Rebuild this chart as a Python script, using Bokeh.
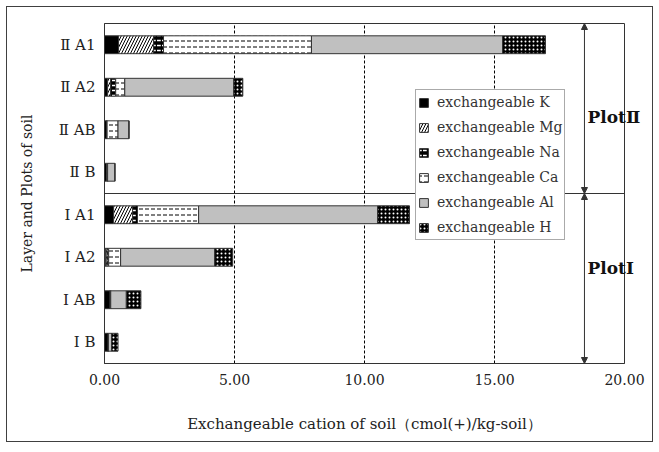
from bokeh.plotting import figure
from bokeh.models import (Range1d, FixedTicker, NumeralTickFormatter, Span, Arrow,
                          NormalHead, ColumnDataSource, Legend, LinearAxis)
from bokeh.embed import file_html
from bokeh.resources import INLINE

# ---- data (top to bottom) ----
categories = ["Ⅱ A1", "Ⅱ A2", "Ⅱ AB", "Ⅱ B", "Ⅰ A1", "Ⅰ A2", "Ⅰ AB", "Ⅰ B"]
K  = [0.54, 0.12, 0.10, 0.08, 0.35, 0.05, 0.22, 0.15]
Mg = [1.35, 0.12, 0.00, 0.04, 0.73, 0.05, 0.00, 0.00]
Na = [0.38, 0.19, 0.00, 0.00, 0.19, 0.06, 0.02, 0.00]
Ca = [5.69, 0.35, 0.42, 0.00, 2.35, 0.46, 0.00, 0.00]
Al = [7.35, 4.19, 0.42, 0.28, 6.88, 3.62, 0.60, 0.12]
H  = [1.65, 0.35, 0.00, 0.00, 1.23, 0.69, 0.56, 0.25]
series_names = ["K", "Mg", "Na", "Ca", "Al", "H"]
legend_labels = ["exchangeable K", "exchangeable Mg", "exchangeable Na",
                 "exchangeable Ca", "exchangeable Al", "exchangeable H"]
x_ticks = [0, 5, 10, 15, 20]
group_labels = ["PlotⅡ", "PlotⅠ"]
group_label_y = [5.29, 1.74]

ypos = list(range(len(categories) - 1, -1, -1))
data = dict(K=K, Mg=Mg, Na=Na, Ca=Ca, Al=Al, H=H)

SERIF = "DejaVu Serif"
TXT = "#222222"

p = figure(width=645, height=434, output_backend="svg", toolbar_location=None,
           x_range=Range1d(0, 20), y_range=Range1d(-0.5, 7.5),
           min_border_left=97, min_border_right=28, min_border_top=16,
           min_border_bottom=78, frame_width=520, frame_height=340)
p.margin = (7, 0, 0, 7)
p.styles = {"outline": "1px solid #404040"}
p.background_fill_color = "white"
p.outline_line_color = "#333333"
p.outline_line_width = 1

styles = [
    dict(fill_color="black"),
    dict(fill_color="white", hatch_pattern="/", hatch_color="black", hatch_scale=6, hatch_weight=1),
    dict(fill_color="black", hatch_pattern='"', hatch_color="white", hatch_scale=5, hatch_weight=1.5),
    dict(fill_color="white", hatch_pattern='"', hatch_color="black", hatch_scale=6, hatch_weight=1),
    dict(fill_color="#c0c0c0"),
    dict(fill_color="black", hatch_pattern=".", hatch_color="white", hatch_scale=4, hatch_weight=2),
]

left = [0.0] * len(categories)
items = []
for name, lab, st in zip(series_names, legend_labels, styles):
    vals = data[name]
    right = [a + b for a, b in zip(left, vals)]
    s = ColumnDataSource(dict(y=ypos, left=left, right=right))
    r = p.hbar(y="y", left="left", right="right", height=0.42, source=s,
               line_color="#333333", line_width=1, **st)
    items.append((lab, [r]))
    left = right

legend = Legend(items=items, location=(311, 123))
legend.label_text_font = SERIF
legend.label_text_font_size = "14px"
legend.label_text_color = "#333333"
legend.glyph_width = 11
legend.glyph_height = 11
legend.label_height = 20
legend.label_standoff = 8
legend.spacing = 5
legend.padding = 2
legend.margin = 0
legend.border_line_color = "#555555"
legend.border_line_width = 1
legend.background_fill_alpha = 1
p.add_layout(legend)

# axes
p.xaxis.ticker = FixedTicker(ticks=x_ticks)
p.xaxis.formatter = NumeralTickFormatter(format="0.00")
p.xaxis.major_tick_out = 0
p.xaxis.major_tick_in = 0
p.xaxis.minor_tick_line_color = None
p.xaxis.major_label_text_font = SERIF
p.xaxis.major_label_text_font_size = "14px"
p.xaxis.major_label_text_color = TXT
p.xaxis.major_label_standoff = 10
p.xaxis.axis_label = "Exchangeable cation of soil（cmol(+)/kg-soil）"
p.xaxis.axis_label_text_font = SERIF
p.xaxis.axis_label_text_font_size = "15px"
p.xaxis.axis_label_text_font_style = "normal"
p.xaxis.axis_label_text_color = TXT
p.xaxis.axis_label_standoff = 27
p.xaxis.axis_line_color = "#333333"

p.yaxis.ticker = FixedTicker(ticks=ypos)
p.yaxis.major_label_overrides = {y: c for y, c in zip(ypos, categories)}
p.yaxis.major_tick_out = 0
p.yaxis.major_tick_in = 0
p.yaxis.minor_tick_line_color = None
p.yaxis.major_label_text_font = SERIF
p.yaxis.major_label_text_font_size = "15px"
p.yaxis.major_label_text_color = TXT
p.yaxis.major_label_standoff = 9
p.yaxis.axis_label = "Layer and Plots of soil"
p.yaxis.axis_label_text_font = SERIF
p.yaxis.axis_label_text_font_size = "14px"
p.yaxis.axis_label_text_font_style = "normal"
p.yaxis.axis_label_text_color = TXT
p.yaxis.axis_label_standoff = 21
p.yaxis.axis_line_color = "#333333"

# group labels as a right-side axis, pulled inward so they straddle the frame
rax = LinearAxis(ticker=FixedTicker(ticks=group_label_y),
                 major_label_overrides={y: t for y, t in zip(group_label_y, group_labels)},
                 major_label_standoff=-43, axis_line_color=None,
                 major_tick_line_color=None, minor_tick_line_color=None,
                 major_label_text_font=SERIF, major_label_text_font_size="17px",
                 major_label_text_font_style="bold", major_label_text_color="#111111")
p.add_layout(rax, "right")

p.ygrid.grid_line_color = None
p.xgrid.grid_line_color = "black"
p.xgrid.grid_line_dash = "3 2"
p.xgrid.grid_line_width = 1

# separator between plots
p.add_layout(Span(location=3.5, dimension="width", line_color="#333333", line_width=1))

ax = 18.46
for y0, y1 in [(3.5, 7.5), (-0.5, 3.5)]:
    p.add_layout(Arrow(x_start=ax, y_start=y0, x_end=ax, y_end=y1,
                       start=NormalHead(size=6, fill_color="#333333", line_color="#333333"),
                       end=NormalHead(size=6, fill_color="#333333", line_color="#333333"),
                       line_color="#333333", line_width=1))

open("out.html", "w").write(file_html(p, INLINE))
